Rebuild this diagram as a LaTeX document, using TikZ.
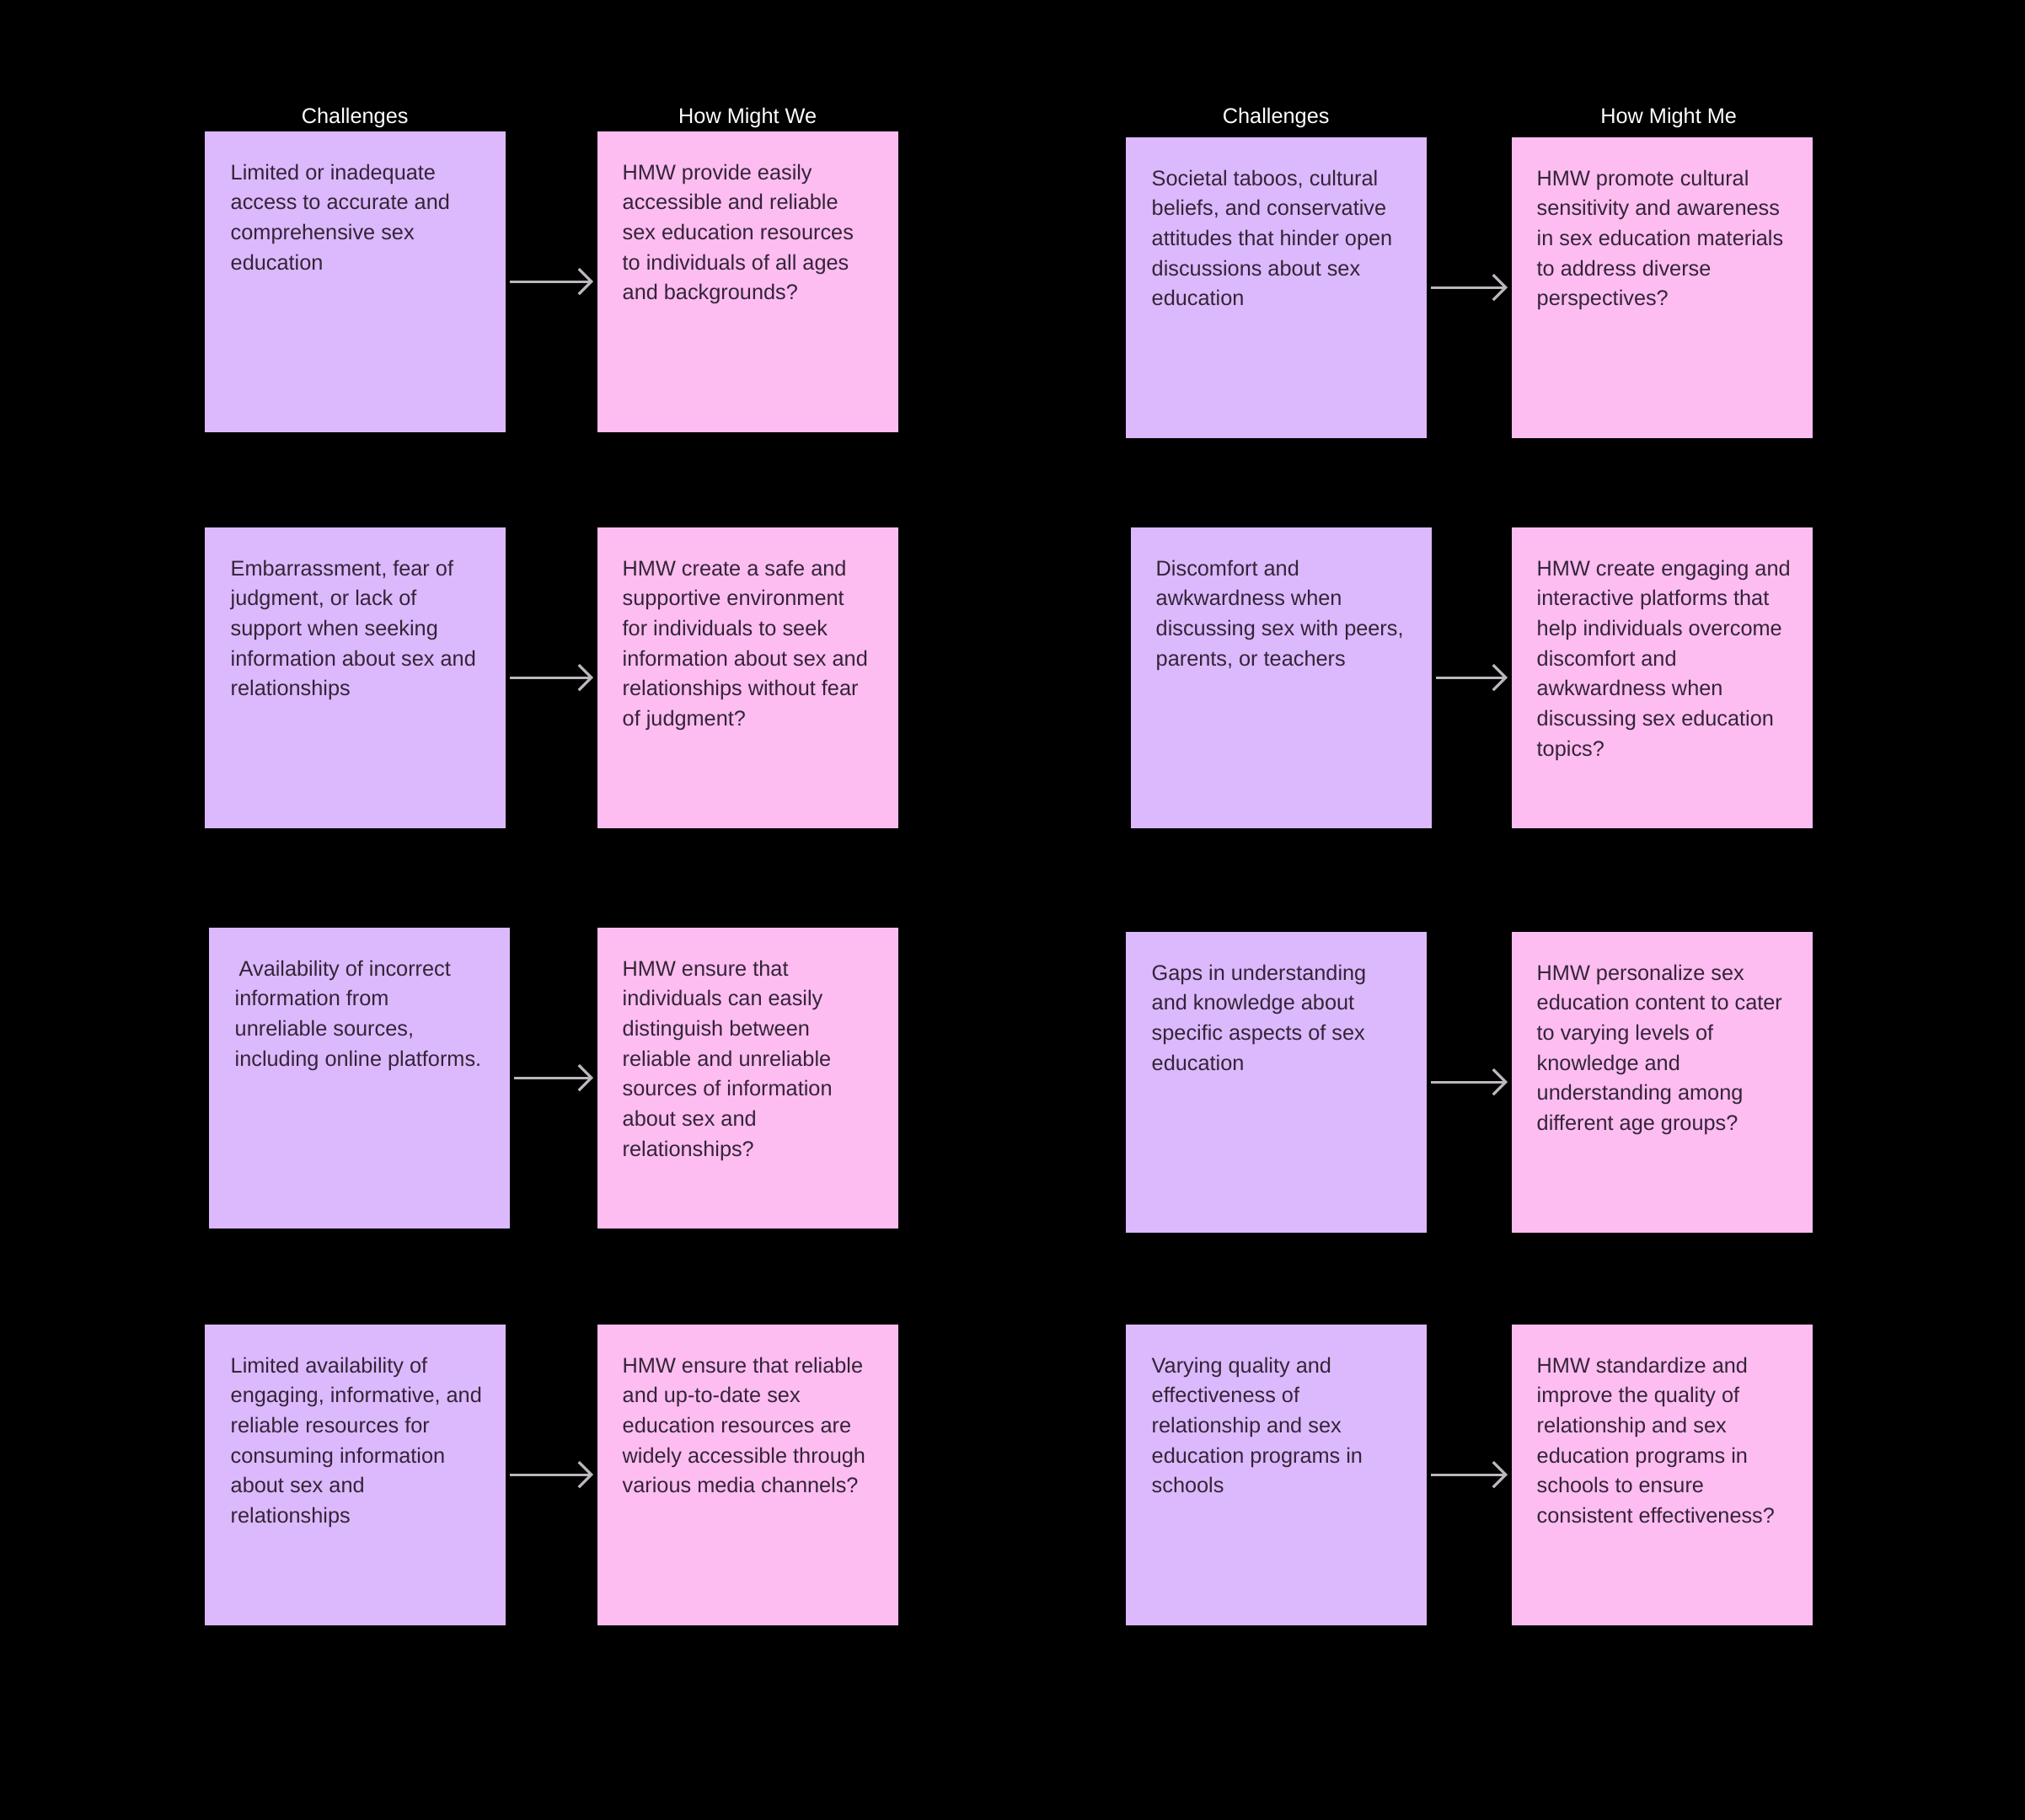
\documentclass[tikz,border=0pt]{standalone}
\usepackage{fontspec}
\setmainfont{Liberation Sans}
\usetikzlibrary{arrows.meta, positioning}
\definecolor{chalbg}{RGB}{220,185,252}
\definecolor{hmwbg}{RGB}{253,189,241}
\definecolor{inktext}{RGB}{52,36,56}
\definecolor{arrowgray}{RGB}{189,182,189}

\begin{document}
\begin{tikzpicture}[
  card/.style={minimum width=3.57cm, minimum height=3.57cm, inner sep=0pt, anchor=north west},
  chal/.style={card, fill=chalbg},
  hmw/.style={card, fill=hmwbg},
  cardtext/.style={align=left, inner sep=0pt, text=inktext, font=\fontsize{7.2}{10.15}\selectfont},
  head/.style={anchor=base, text=white, font=\fontsize{7.2}{9}\selectfont},
  flow/.style={draw=arrowgray, line width=0.9pt, -{Straight Barb[length=0.15cm, width=0.30cm]}, shorten <=0.05cm, shorten >=0.04cm}
]
  \fill[black] (0,0) rectangle (24.03,-21.60);
  \coordinate (toprow) at (0,-1.47);

  % left column pairs
  \node[chal] (c1) at (2.42,-1.55) {};
  \node[hmw] (h1) at (7.08,-1.55) {};
  \node[chal] (c3) at (2.42,-6.25) {};
  \node[hmw] (h3) at (7.08,-6.25) {};
  \node[chal] (c5) at (2.47,-11.00) {};
  \node[hmw] (h5) at (7.08,-11.00) {};
  \node[chal] (c7) at (2.42,-15.71) {};
  \node[hmw] (h7) at (7.08,-15.71) {};

  % right column pairs
  \node[chal] (c2) at (13.35,-1.62) {};
  \node[hmw] (h2) at (17.93,-1.62) {};
  \node[chal] (c4) at (13.41,-6.25) {};
  \node[hmw] (h4) at (17.93,-6.25) {};
  \node[chal] (c6) at (13.35,-11.05) {};
  \node[hmw] (h6) at (17.93,-11.05) {};
  \node[chal] (c8) at (13.35,-15.71) {};
  \node[hmw] (h8) at (17.93,-15.71) {};

  % headers
  \node[head] (hc1) at (c1.north |- toprow) {Challenges};
  \node[head] (hh1) at (h1.north |- toprow) {How Might We};
  \node[head] (hc2) at (c2.north |- toprow) {Challenges};
  \node[head, xshift=0.08cm] (hh2) at (h2.north |- toprow) {How Might Me};

  % card texts
  \node[cardtext, below right=0.39cm and 0.31cm of c1.north west] (c1t)
    {Limited or inadequate\\access to accurate and\\comprehensive sex\\education};
  \node[cardtext, below right=0.39cm and 0.30cm of h1.north west] (h1t)
    {HMW provide easily\\accessible and reliable\\sex education resources\\to individuals of all ages\\and backgrounds?};
  \node[cardtext, below right=0.39cm and 0.31cm of c2.north west] (c2t)
    {Societal taboos, cultural\\beliefs, and conservative\\attitudes that hinder open\\discussions about sex\\education};
  \node[cardtext, below right=0.39cm and 0.30cm of h2.north west] (h2t)
    {HMW promote cultural\\sensitivity and awareness\\in sex education materials\\to address diverse\\perspectives?};
  \node[cardtext, below right=0.39cm and 0.31cm of c3.north west] (c3t)
    {Embarrassment, fear of\\judgment, or lack of\\support when seeking\\information about sex and\\relationships};
  \node[cardtext, below right=0.39cm and 0.30cm of h3.north west] (h3t)
    {HMW create a safe and\\supportive environment\\for individuals to seek\\information about sex and\\relationships without fear\\of judgment?};
  \node[cardtext, below right=0.39cm and 0.30cm of c4.north west] (c4t)
    {Discomfort and\\awkwardness when\\discussing sex with peers,\\parents, or teachers};
  \node[cardtext, below right=0.39cm and 0.30cm of h4.north west] (h4t)
    {HMW create engaging and\\interactive platforms that\\help individuals overcome\\discomfort and\\awkwardness when\\discussing sex education\\topics?};
  \node[cardtext, below right=0.39cm and 0.31cm of c5.north west] (c5t)
    {\hspace*{0.05cm}Availability of incorrect\\information from\\unreliable sources,\\including online platforms.};
  \node[cardtext, below right=0.39cm and 0.30cm of h5.north west] (h5t)
    {HMW ensure that\\individuals can easily\\distinguish between\\reliable and unreliable\\sources of information\\about sex and\\relationships?};
  \node[cardtext, below right=0.39cm and 0.31cm of c6.north west] (c6t)
    {Gaps in understanding\\and knowledge about\\specific aspects of sex\\education};
  \node[cardtext, below right=0.39cm and 0.30cm of h6.north west] (h6t)
    {HMW personalize sex\\education content to cater\\to varying levels of\\knowledge and\\understanding among\\different age groups?};
  \node[cardtext, below right=0.39cm and 0.31cm of c7.north west] (c7t)
    {Limited availability of\\engaging, informative, and\\reliable resources for\\consuming information\\about sex and\\relationships};
  \node[cardtext, below right=0.39cm and 0.30cm of h7.north west] (h7t)
    {HMW ensure that reliable\\and up-to-date sex\\education resources are\\widely accessible through\\various media channels?};
  \node[cardtext, below right=0.39cm and 0.31cm of c8.north west] (c8t)
    {Varying quality and\\effectiveness of\\relationship and sex\\education programs in\\schools};
  \node[cardtext, below right=0.39cm and 0.30cm of h8.north west] (h8t)
    {HMW standardize and\\improve the quality of\\relationship and sex\\education programs in\\schools to ensure\\consistent effectiveness?};

  % challenge -> hmw arrows
  \draw[flow] (c1) -- (h1);
  \draw[flow] (c2) -- (h2);
  \draw[flow] (c3) -- (h3);
  \draw[flow] (c4) -- (h4);
  \draw[flow] (c5) -- (h5);
  \draw[flow] (c6) -- (h6);
  \draw[flow] (c7) -- (h7);
  \draw[flow] (c8) -- (h8);
\end{tikzpicture}
\end{document}
